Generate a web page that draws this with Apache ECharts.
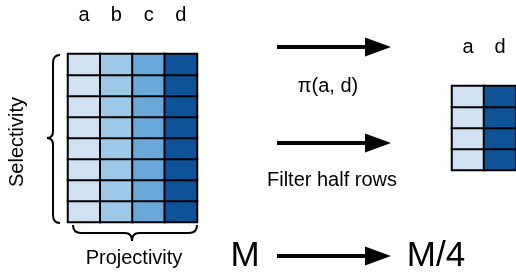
<!DOCTYPE html>
<html><head><meta charset="utf-8">
<script src="https://cdn.jsdelivr.net/npm/echarts@6/dist/echarts.min.js"></script>
<style>html,body{margin:0;padding:0;background:#fff}#c{width:516px;height:276px}</style>
</head><body><div id="c"></div>
<script>
// Data
var fullColumns = ['a', 'b', 'c', 'd'];
var fullRows = ['1', '2', '3', '4', '5', '6', '7', '8'];
var fullShade = [0, 1, 2, 3];           // shade level per column of the full table
var projColumns = ['a', 'd'];
var projRows = ['1', '2', '3', '4'];
var projShade = [0, 3];                 // shade level per kept column
var shadeColors = ['#cfe1f2', '#9ec8e8', '#6ba8da', '#0e5297'];
var labels = {
  selectivity: 'Selectivity', projectivity: 'Projectivity',
  proj: 'π(a, d)', filter: 'Filter half rows', from: 'M', to: 'M/4'
};

function cells(cols, rows, shade) {
  var out = [];
  for (var i = 0; i < cols.length; i++)
    for (var j = 0; j < rows.length; j++) out.push([i, j, shade[i]]);
  return out;
}

var FONT = '"Liberation Sans", Arial, sans-serif';
var chart = echarts.init(document.getElementById('c'), null, {renderer: 'canvas'});

function xAx(idx, cols) {
  return {
    type: 'category', gridIndex: idx, data: cols, position: 'top',
    axisLine: {show: false}, axisTick: {show: false}, splitLine: {show: false},
    axisLabel: {color: '#000', fontSize: 20, fontFamily: FONT, margin: 29}
  };
}
function yAx(idx, rows) {
  return {type: 'category', gridIndex: idx, data: rows, show: false};
}

function arrow(y) {
  return [
    {type: 'line', shape: {x1: 277, y1: y, x2: 368, y2: y}, style: {stroke: '#000', lineWidth: 4}},
    {type: 'polygon', shape: {points: [[365, y - 9.5], [391, y], [365, y + 9.5]]}, style: {fill: '#000'}}
  ];
}
function txt(x, y, s, size, rot) {
  return {
    type: 'text', x: x, y: y, rotation: rot || 0,
    style: {text: s, fill: '#000', font: size + 'px ' + FONT, align: 'center', verticalAlign: 'middle'}
  };
}
var ST = {stroke: '#000', lineWidth: 2, fill: null};
function seg(a, b) { return {type: 'line', shape: {x1: a[0], y1: a[1], x2: b[0], y2: b[1]}, style: ST}; }
function qc(a, c, b) {
  return {type: 'bezierCurve', shape: {x1: a[0], y1: a[1], cpx1: c[0], cpy1: c[1], x2: b[0], y2: b[1]}, style: ST};
}

var braceLeft = [
  qc([60, 55], [53, 55], [53, 63]), seg([53, 63], [53, 131]),
  qc([53, 131], [53, 138], [47, 138]), qc([47, 138], [53, 138], [53, 145]),
  seg([53, 145], [53, 215]), qc([53, 215], [53, 223], [60, 223])
];
var braceBottom = [
  qc([73, 225], [73, 233], [81, 233]), seg([81, 233], [125, 233]),
  qc([125, 233], [132, 233], [132, 241]), qc([132, 241], [132, 233], [139, 233]),
  seg([139, 233], [189, 233]), qc([189, 233], [197, 233], [197, 225])
];

var graphics = [].concat(
  arrow(47), arrow(143), arrow(256), braceLeft, braceBottom,
  [
    txt(17, 142, labels.selectivity, 20, Math.PI / 2),
    txt(134, 258, labels.projectivity, 20),
    txt(328, 86, labels.proj, 20),
    txt(332, 180, labels.filter, 20),
    txt(245, 256, labels.from, 35),
    txt(436, 256, labels.to, 35)
  ]
);

chart.setOption({
  animation: false,
  backgroundColor: '#fff',
  grid: [
    {left: 68, top: 54, width: 129, height: 168},
    {left: 452, top: 86, width: 66, height: 84}
  ],
  xAxis: [xAx(0, fullColumns), xAx(1, projColumns)],
  yAxis: [yAx(0, fullRows), yAx(1, projRows)],
  visualMap: {
    show: false, type: 'piecewise', dimension: 2, seriesIndex: [0, 1],
    pieces: shadeColors.map(function (c, i) { return {value: i, color: c}; })
  },
  series: [
    {type: 'heatmap', xAxisIndex: 0, yAxisIndex: 0, data: cells(fullColumns, fullRows, fullShade),
     itemStyle: {borderColor: '#000', borderWidth: 2}, emphasis: {disabled: true}},
    {type: 'heatmap', xAxisIndex: 1, yAxisIndex: 1, data: cells(projColumns, projRows, projShade),
     itemStyle: {borderColor: '#000', borderWidth: 2}, emphasis: {disabled: true}}
  ],
  graphic: graphics
});
</script></body></html>
